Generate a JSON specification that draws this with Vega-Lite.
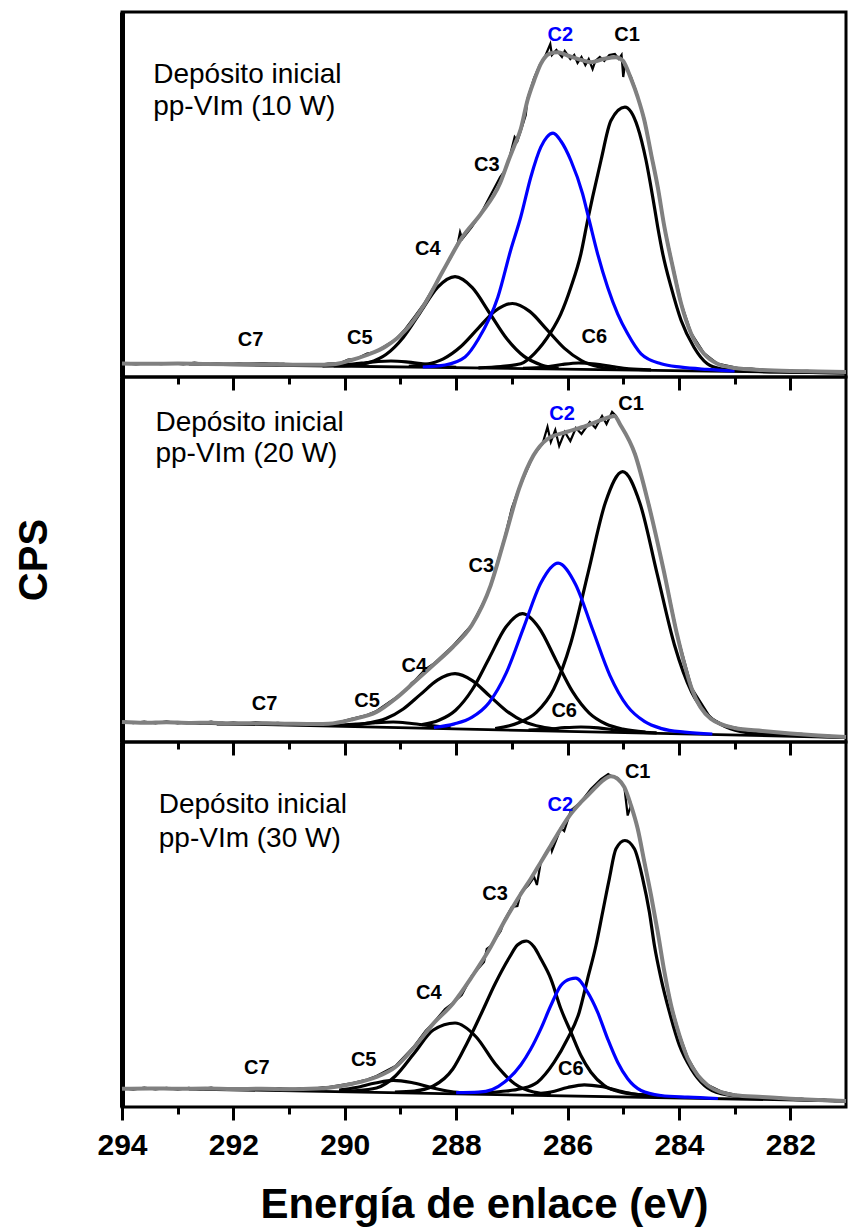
{
"$schema": "https://vega.github.io/schema/vega-lite/v6.json",
"padding": {"left": 12, "top": 10, "right": 2, "bottom": 2},
"config": {"view": {"stroke": "black", "strokeWidth": 3}, "font": "Liberation Sans", "axis": {"grid": false}},
"datasets": {
"curves": [
{"p":1,"s":"env","x":294,"y":13.5},{"p":1,"s":"env","x":293.5,"y":13.2},{"p":1,"s":"env","x":293,"y":13.4},{"p":1,"s":"env","x":292.5,"y":13},{"p":1,"s":"env","x":292,"y":12.8},{"p":1,"s":"env","x":291.5,"y":12.8},{"p":1,"s":"env","x":291,"y":12.3},{"p":1,"s":"env","x":290.5,"y":12.2},{"p":1,"s":"env","x":290.2,"y":12.8},{"p":1,"s":"env","x":289.94,"y":16},{"p":1,"s":"env","x":289.6,"y":22},{"p":1,"s":"env","x":289.26,"y":30.7},{"p":1,"s":"env","x":288.92,"y":46},{"p":1,"s":"env","x":288.58,"y":71.6},{"p":1,"s":"env","x":288.24,"y":105.7},{"p":1,"s":"env","x":287.89,"y":139.8},{"p":1,"s":"env","x":287.55,"y":163.7},{"p":1,"s":"env","x":287.21,"y":194},{"p":1,"s":"env","x":287.05,"y":218},{"p":1,"s":"env","x":286.95,"y":232},{"p":1,"s":"env","x":286.84,"y":248},{"p":1,"s":"env","x":286.72,"y":276.5},{"p":1,"s":"env","x":286.6,"y":296.5},{"p":1,"s":"env","x":286.48,"y":313.2},{"p":1,"s":"env","x":286.33,"y":323.2},{"p":1,"s":"env","x":286.18,"y":324.8},{"p":1,"s":"env","x":286,"y":321.5},{"p":1,"s":"env","x":285.82,"y":318.2},{"p":1,"s":"env","x":285.58,"y":314.8},{"p":1,"s":"env","x":285.34,"y":318.2},{"p":1,"s":"env","x":285.13,"y":319.8},{"p":1,"s":"env","x":285.01,"y":316.5},{"p":1,"s":"env","x":284.86,"y":298.2},{"p":1,"s":"env","x":284.74,"y":279.8},{"p":1,"s":"env","x":284.62,"y":256.5},{"p":1,"s":"env","x":284.5,"y":223.2},{"p":1,"s":"env","x":284.38,"y":189.8},{"p":1,"s":"env","x":284.26,"y":149.8},{"p":1,"s":"env","x":284.11,"y":109.8},{"p":1,"s":"env","x":283.96,"y":73.2},{"p":1,"s":"env","x":283.78,"y":43.2},{"p":1,"s":"env","x":283.55,"y":23.2},{"p":1,"s":"env","x":283.31,"y":13.2},{"p":1,"s":"env","x":283,"y":9},{"p":1,"s":"env","x":282.5,"y":7},{"p":1,"s":"env","x":282,"y":6},{"p":1,"s":"env","x":281.5,"y":5.5},{"p":1,"s":"env","x":281,"y":5},
{"p":1,"s":"raw","x":294,"y":14.2},{"p":1,"s":"raw","x":293.75,"y":12.6},{"p":1,"s":"raw","x":293.5,"y":14},{"p":1,"s":"raw","x":293.3,"y":12.8},{"p":1,"s":"raw","x":293.1,"y":13.9},{"p":1,"s":"raw","x":292.9,"y":12.5},{"p":1,"s":"raw","x":292.7,"y":14.3},{"p":1,"s":"raw","x":292.5,"y":12.9},{"p":1,"s":"raw","x":292.3,"y":13.6},{"p":1,"s":"raw","x":292.1,"y":12.4},{"p":1,"s":"raw","x":291.9,"y":13.5},{"p":1,"s":"raw","x":291.7,"y":12.2},{"p":1,"s":"raw","x":291.5,"y":13.8},{"p":1,"s":"raw","x":291.3,"y":12.4},{"p":1,"s":"raw","x":291.1,"y":13.2},{"p":1,"s":"raw","x":290.9,"y":11.8},{"p":1,"s":"raw","x":290.7,"y":12.9},{"p":1,"s":"raw","x":290.5,"y":11.9},{"p":1,"s":"raw","x":290.3,"y":13.4},{"p":1,"s":"raw","x":290.1,"y":13.6},{"p":1,"s":"raw","x":289.94,"y":17.5},{"p":1,"s":"raw","x":289.8,"y":18},{"p":1,"s":"raw","x":289.6,"y":23.5},{"p":1,"s":"raw","x":289.45,"y":25},{"p":1,"s":"raw","x":289.26,"y":31.5},{"p":1,"s":"raw","x":289.1,"y":37},{"p":1,"s":"raw","x":288.92,"y":47.5},{"p":1,"s":"raw","x":288.75,"y":60},{"p":1,"s":"raw","x":288.58,"y":73},{"p":1,"s":"raw","x":288.4,"y":90},{"p":1,"s":"raw","x":288.24,"y":106},{"p":1,"s":"raw","x":288.1,"y":119},{"p":1,"s":"raw","x":287.97,"y":134},{"p":1,"s":"raw","x":287.93,"y":145},{"p":1,"s":"raw","x":287.89,"y":138},{"p":1,"s":"raw","x":287.72,"y":150},{"p":1,"s":"raw","x":287.55,"y":164},{"p":1,"s":"raw","x":287.4,"y":180},{"p":1,"s":"raw","x":287.21,"y":200},{"p":1,"s":"raw","x":287.13,"y":206},{"p":1,"s":"raw","x":287.05,"y":218},{"p":1,"s":"raw","x":286.95,"y":240},{"p":1,"s":"raw","x":286.9,"y":236},{"p":1,"s":"raw","x":286.84,"y":246},{"p":1,"s":"raw","x":286.75,"y":262},{"p":1,"s":"raw","x":286.72,"y":278},{"p":1,"s":"raw","x":286.6,"y":299},{"p":1,"s":"raw","x":286.5,"y":312},{"p":1,"s":"raw","x":286.4,"y":321},{"p":1,"s":"raw","x":286.31,"y":333},{"p":1,"s":"raw","x":286.28,"y":322},{"p":1,"s":"raw","x":286.2,"y":327},{"p":1,"s":"raw","x":286.1,"y":320},{"p":1,"s":"raw","x":286.05,"y":326},{"p":1,"s":"raw","x":285.95,"y":318},{"p":1,"s":"raw","x":285.88,"y":322},{"p":1,"s":"raw","x":285.82,"y":314},{"p":1,"s":"raw","x":285.75,"y":320},{"p":1,"s":"raw","x":285.68,"y":312},{"p":1,"s":"raw","x":285.62,"y":318},{"p":1,"s":"raw","x":285.55,"y":308},{"p":1,"s":"raw","x":285.5,"y":316},{"p":1,"s":"raw","x":285.42,"y":320},{"p":1,"s":"raw","x":285.34,"y":316},{"p":1,"s":"raw","x":285.25,"y":322},{"p":1,"s":"raw","x":285.15,"y":323},{"p":1,"s":"raw","x":285.08,"y":318},{"p":1,"s":"raw","x":285.03,"y":322},{"p":1,"s":"raw","x":285,"y":300},{"p":1,"s":"raw","x":284.97,"y":312},{"p":1,"s":"raw","x":284.86,"y":300},{"p":1,"s":"raw","x":284.77,"y":286},{"p":1,"s":"raw","x":284.74,"y":280},{"p":1,"s":"raw","x":284.62,"y":258},{"p":1,"s":"raw","x":284.5,"y":224},{"p":1,"s":"raw","x":284.38,"y":191},{"p":1,"s":"raw","x":284.26,"y":150},{"p":1,"s":"raw","x":284.11,"y":111},{"p":1,"s":"raw","x":283.96,"y":74},{"p":1,"s":"raw","x":283.78,"y":44},{"p":1,"s":"raw","x":283.55,"y":24},{"p":1,"s":"raw","x":283.31,"y":13.5},{"p":1,"s":"raw","x":283.1,"y":11},{"p":1,"s":"raw","x":282.9,"y":8.5},{"p":1,"s":"raw","x":282.7,"y":8.5},{"p":1,"s":"raw","x":282.5,"y":7.2},{"p":1,"s":"raw","x":282.3,"y":6.8},{"p":1,"s":"raw","x":282.1,"y":6.5},{"p":1,"s":"raw","x":281.9,"y":5.6},{"p":1,"s":"raw","x":281.7,"y":6.2},{"p":1,"s":"raw","x":281.5,"y":5.2},{"p":1,"s":"raw","x":281.3,"y":5.6},{"p":1,"s":"raw","x":281,"y":4.8},
{"p":1,"s":"C1","x":287.6,"y":9.2},{"p":1,"s":"C1","x":287.2,"y":10.5},{"p":1,"s":"C1","x":286.84,"y":13.2},{"p":1,"s":"C1","x":286.6,"y":23.2},{"p":1,"s":"C1","x":286.3,"y":44.8},{"p":1,"s":"C1","x":286.12,"y":63.2},{"p":1,"s":"C1","x":285.94,"y":89.8},{"p":1,"s":"C1","x":285.76,"y":123.2},{"p":1,"s":"C1","x":285.64,"y":156.5},{"p":1,"s":"C1","x":285.55,"y":179.8},{"p":1,"s":"C1","x":285.4,"y":216.5},{"p":1,"s":"C1","x":285.22,"y":256.5},{"p":1,"s":"C1","x":284.97,"y":269.8},{"p":1,"s":"C1","x":284.74,"y":249.8},{"p":1,"s":"C1","x":284.59,"y":216.5},{"p":1,"s":"C1","x":284.47,"y":179.8},{"p":1,"s":"C1","x":284.38,"y":149.8},{"p":1,"s":"C1","x":284.29,"y":123.2},{"p":1,"s":"C1","x":284.14,"y":89.8},{"p":1,"s":"C1","x":283.96,"y":56.5},{"p":1,"s":"C1","x":283.73,"y":29.8},{"p":1,"s":"C1","x":283.49,"y":13.2},{"p":1,"s":"C1","x":283.25,"y":8.2},{"p":1,"s":"C1","x":282.8,"y":6},{"p":1,"s":"C1","x":282,"y":4.8},{"p":1,"s":"C1","x":281,"y":4},
{"p":1,"s":"C2","x":288.6,"y":10},{"p":1,"s":"C2","x":288.2,"y":12},{"p":1,"s":"C2","x":287.84,"y":20},{"p":1,"s":"C2","x":287.6,"y":38},{"p":1,"s":"C2","x":287.25,"y":80},{"p":1,"s":"C2","x":287.02,"y":127},{"p":1,"s":"C2","x":286.84,"y":160},{"p":1,"s":"C2","x":286.66,"y":199.8},{"p":1,"s":"C2","x":286.48,"y":229.8},{"p":1,"s":"C2","x":286.37,"y":240},{"p":1,"s":"C2","x":286.26,"y":243.8},{"p":1,"s":"C2","x":286.12,"y":236},{"p":1,"s":"C2","x":285.94,"y":216.5},{"p":1,"s":"C2","x":285.73,"y":183.2},{"p":1,"s":"C2","x":285.61,"y":156.5},{"p":1,"s":"C2","x":285.46,"y":123.2},{"p":1,"s":"C2","x":285.28,"y":89.8},{"p":1,"s":"C2","x":285.1,"y":63.2},{"p":1,"s":"C2","x":284.92,"y":43.2},{"p":1,"s":"C2","x":284.68,"y":23.2},{"p":1,"s":"C2","x":284.32,"y":13.2},{"p":1,"s":"C2","x":283.96,"y":9.8},{"p":1,"s":"C2","x":283.5,"y":7.6},{"p":1,"s":"C2","x":283,"y":6},
{"p":1,"s":"C3","x":285.13,"y":7.8},{"p":1,"s":"C3","x":285.44,"y":10.2},{"p":1,"s":"C3","x":285.75,"y":16.4},{"p":1,"s":"C3","x":286.06,"y":28.9},{"p":1,"s":"C3","x":286.37,"y":47.4},{"p":1,"s":"C3","x":286.68,"y":65.6},{"p":1,"s":"C3","x":286.99,"y":73.5},{"p":1,"s":"C3","x":287.3,"y":66},{"p":1,"s":"C3","x":287.61,"y":48.4},{"p":1,"s":"C3","x":287.92,"y":30.3},{"p":1,"s":"C3","x":288.23,"y":18.2},{"p":1,"s":"C3","x":288.54,"y":12.6},{"p":1,"s":"C3","x":288.85,"y":10.6},
{"p":1,"s":"C4","x":286.16,"y":8.9},{"p":1,"s":"C4","x":286.47,"y":12.1},{"p":1,"s":"C4","x":286.78,"y":20.6},{"p":1,"s":"C4","x":287.09,"y":38.2},{"p":1,"s":"C4","x":287.4,"y":64},{"p":1,"s":"C4","x":287.71,"y":89.3},{"p":1,"s":"C4","x":288.02,"y":100.3},{"p":1,"s":"C4","x":288.33,"y":89.8},{"p":1,"s":"C4","x":288.64,"y":64.9},{"p":1,"s":"C4","x":288.95,"y":39.6},{"p":1,"s":"C4","x":289.26,"y":22.5},{"p":1,"s":"C4","x":289.57,"y":14.4},{"p":1,"s":"C4","x":289.88,"y":11.7},{"p":1,"s":"C4","x":290.2,"y":11},
{"p":1,"s":"C5","x":290.4,"y":11.2},{"p":1,"s":"C5","x":290,"y":12.2},{"p":1,"s":"C5","x":289.7,"y":13.8},{"p":1,"s":"C5","x":289.4,"y":15.5},{"p":1,"s":"C5","x":289.17,"y":16},{"p":1,"s":"C5","x":288.9,"y":15.2},{"p":1,"s":"C5","x":288.6,"y":13.2},{"p":1,"s":"C5","x":288.3,"y":11},{"p":1,"s":"C5","x":288,"y":9.6},
{"p":1,"s":"C6","x":286.8,"y":8.6},{"p":1,"s":"C6","x":286.4,"y":10},{"p":1,"s":"C6","x":286.1,"y":12.5},{"p":1,"s":"C6","x":285.8,"y":14},{"p":1,"s":"C6","x":285.5,"y":13},{"p":1,"s":"C6","x":285.2,"y":10.5},{"p":1,"s":"C6","x":284.9,"y":8.2},{"p":1,"s":"C6","x":284.5,"y":7.2},
{"p":1,"s":"C7","x":292.4,"y":12.7},{"p":1,"s":"C7","x":291.9,"y":12.8},{"p":1,"s":"C7","x":291.5,"y":13.1},{"p":1,"s":"C7","x":291.1,"y":12.6},{"p":1,"s":"C7","x":290.6,"y":11.8},
{"p":1,"s":"base","x":292.8,"y":12.9},{"p":1,"s":"base","x":281,"y":4},

{"p":2,"s":"env","x":294,"y":20},{"p":2,"s":"env","x":293.6,"y":19.2},{"p":2,"s":"env","x":293.2,"y":19.8},{"p":2,"s":"env","x":292.8,"y":19},{"p":2,"s":"env","x":292.4,"y":19.3},{"p":2,"s":"env","x":292,"y":18.7},{"p":2,"s":"env","x":291.5,"y":18.8},{"p":2,"s":"env","x":291,"y":18.3},{"p":2,"s":"env","x":290.5,"y":18},{"p":2,"s":"env","x":290.29,"y":18.3},{"p":2,"s":"env","x":289.86,"y":22.7},{"p":2,"s":"env","x":289.43,"y":30},{"p":2,"s":"env","x":289.09,"y":43.3},{"p":2,"s":"env","x":288.75,"y":60},{"p":2,"s":"env","x":288.41,"y":77},{"p":2,"s":"env","x":288.06,"y":95},{"p":2,"s":"env","x":287.72,"y":116.7},{"p":2,"s":"env","x":287.38,"y":156.7},{"p":2,"s":"env","x":287.13,"y":203.3},{"p":2,"s":"env","x":286.87,"y":253.3},{"p":2,"s":"env","x":286.61,"y":286.7},{"p":2,"s":"env","x":286.36,"y":303},{"p":2,"s":"env","x":286.02,"y":310},{"p":2,"s":"env","x":285.67,"y":316},{"p":2,"s":"env","x":285.33,"y":323.3},{"p":2,"s":"env","x":285.16,"y":326},{"p":2,"s":"env","x":285.05,"y":317},{"p":2,"s":"env","x":284.79,"y":288},{"p":2,"s":"env","x":284.54,"y":236.7},{"p":2,"s":"env","x":284.28,"y":173.3},{"p":2,"s":"env","x":284.03,"y":106.7},{"p":2,"s":"env","x":283.77,"y":53.3},{"p":2,"s":"env","x":283.43,"y":23.3},{"p":2,"s":"env","x":283,"y":14},{"p":2,"s":"env","x":282.5,"y":11},{"p":2,"s":"env","x":282,"y":8.5},{"p":2,"s":"env","x":281.5,"y":6.5},{"p":2,"s":"env","x":281,"y":5},
{"p":2,"s":"raw","x":294,"y":21},{"p":2,"s":"raw","x":293.8,"y":18.8},{"p":2,"s":"raw","x":293.6,"y":20.5},{"p":2,"s":"raw","x":293.4,"y":18.6},{"p":2,"s":"raw","x":293.2,"y":20.6},{"p":2,"s":"raw","x":293,"y":18.5},{"p":2,"s":"raw","x":292.8,"y":20},{"p":2,"s":"raw","x":292.6,"y":18.4},{"p":2,"s":"raw","x":292.4,"y":20.4},{"p":2,"s":"raw","x":292.2,"y":18.2},{"p":2,"s":"raw","x":292,"y":19.6},{"p":2,"s":"raw","x":291.8,"y":18},{"p":2,"s":"raw","x":291.6,"y":19.8},{"p":2,"s":"raw","x":291.4,"y":18.1},{"p":2,"s":"raw","x":291.2,"y":19.2},{"p":2,"s":"raw","x":291,"y":17.6},{"p":2,"s":"raw","x":290.8,"y":18.9},{"p":2,"s":"raw","x":290.6,"y":17.4},{"p":2,"s":"raw","x":290.4,"y":18.8},{"p":2,"s":"raw","x":290.2,"y":18.5},{"p":2,"s":"raw","x":289.86,"y":23.5},{"p":2,"s":"raw","x":289.6,"y":27},{"p":2,"s":"raw","x":289.43,"y":31},{"p":2,"s":"raw","x":289.09,"y":44},{"p":2,"s":"raw","x":288.9,"y":52},{"p":2,"s":"raw","x":288.8,"y":59},{"p":2,"s":"raw","x":288.75,"y":61},{"p":2,"s":"raw","x":288.55,"y":73},{"p":2,"s":"raw","x":288.41,"y":78},{"p":2,"s":"raw","x":288.06,"y":96},{"p":2,"s":"raw","x":287.72,"y":117},{"p":2,"s":"raw","x":287.45,"y":146},{"p":2,"s":"raw","x":287.38,"y":157},{"p":2,"s":"raw","x":287.3,"y":172},{"p":2,"s":"raw","x":287.13,"y":204},{"p":2,"s":"raw","x":287,"y":234},{"p":2,"s":"raw","x":286.87,"y":254},{"p":2,"s":"raw","x":286.61,"y":287},{"p":2,"s":"raw","x":286.45,"y":298},{"p":2,"s":"raw","x":286.36,"y":315},{"p":2,"s":"raw","x":286.3,"y":300},{"p":2,"s":"raw","x":286.22,"y":312},{"p":2,"s":"raw","x":286.15,"y":296},{"p":2,"s":"raw","x":286.05,"y":310},{"p":2,"s":"raw","x":285.95,"y":301},{"p":2,"s":"raw","x":285.85,"y":314},{"p":2,"s":"raw","x":285.75,"y":308},{"p":2,"s":"raw","x":285.6,"y":320},{"p":2,"s":"raw","x":285.5,"y":314},{"p":2,"s":"raw","x":285.38,"y":326},{"p":2,"s":"raw","x":285.3,"y":318},{"p":2,"s":"raw","x":285.2,"y":330},{"p":2,"s":"raw","x":285.13,"y":326},{"p":2,"s":"raw","x":285.05,"y":317},{"p":2,"s":"raw","x":284.92,"y":304},{"p":2,"s":"raw","x":284.79,"y":289},{"p":2,"s":"raw","x":284.54,"y":238},{"p":2,"s":"raw","x":284.28,"y":174},{"p":2,"s":"raw","x":284.03,"y":107},{"p":2,"s":"raw","x":283.77,"y":54},{"p":2,"s":"raw","x":283.43,"y":24},{"p":2,"s":"raw","x":283.2,"y":17},{"p":2,"s":"raw","x":283,"y":14.5},{"p":2,"s":"raw","x":282.8,"y":12.2},{"p":2,"s":"raw","x":282.6,"y":12},{"p":2,"s":"raw","x":282.4,"y":10.2},{"p":2,"s":"raw","x":282.2,"y":10},{"p":2,"s":"raw","x":282,"y":8.4},{"p":2,"s":"raw","x":281.8,"y":8.2},{"p":2,"s":"raw","x":281.6,"y":6.6},{"p":2,"s":"raw","x":281.4,"y":6.8},{"p":2,"s":"raw","x":281.2,"y":5.4},{"p":2,"s":"raw","x":281,"y":5.2},
{"p":2,"s":"C1","x":287.3,"y":13.5},{"p":2,"s":"C1","x":286.87,"y":19.5},{"p":2,"s":"C1","x":286.56,"y":29.6},{"p":2,"s":"C1","x":286.25,"y":52.7},{"p":2,"s":"C1","x":285.94,"y":99.2},{"p":2,"s":"C1","x":285.63,"y":169.4},{"p":2,"s":"C1","x":285.32,"y":239.5},{"p":2,"s":"C1","x":285.01,"y":270.4},{"p":2,"s":"C1","x":284.7,"y":238.8},{"p":2,"s":"C1","x":284.39,"y":167.8},{"p":2,"s":"C1","x":284.08,"y":97},{"p":2,"s":"C1","x":283.77,"y":49.7},{"p":2,"s":"C1","x":283.46,"y":25.8},{"p":2,"s":"C1","x":283.15,"y":14.9},{"p":2,"s":"C1","x":282.8,"y":9.5},{"p":2,"s":"C1","x":282.3,"y":7.5},{"p":2,"s":"C1","x":281.5,"y":5.5},{"p":2,"s":"C1","x":281,"y":4.8},
{"p":2,"s":"C2","x":288.4,"y":14.5},{"p":2,"s":"C2","x":288.03,"y":18.1},{"p":2,"s":"C2","x":287.72,"y":24.6},{"p":2,"s":"C2","x":287.41,"y":39.3},{"p":2,"s":"C2","x":287.1,"y":69.1},{"p":2,"s":"C2","x":286.79,"y":114.1},{"p":2,"s":"C2","x":286.48,"y":159},{"p":2,"s":"C2","x":286.17,"y":178.9},{"p":2,"s":"C2","x":285.86,"y":158.1},{"p":2,"s":"C2","x":285.55,"y":112.5},{"p":2,"s":"C2","x":285.24,"y":66.7},{"p":2,"s":"C2","x":284.93,"y":36.1},{"p":2,"s":"C2","x":284.62,"y":20.6},{"p":2,"s":"C2","x":284.31,"y":13.4},{"p":2,"s":"C2","x":283.9,"y":9.8},{"p":2,"s":"C2","x":283.4,"y":8},
{"p":2,"s":"C3","x":288.61,"y":17.4},{"p":2,"s":"C3","x":288.31,"y":21.7},{"p":2,"s":"C3","x":288.01,"y":31.8},{"p":2,"s":"C3","x":287.71,"y":52.5},{"p":2,"s":"C3","x":287.41,"y":83.6},{"p":2,"s":"C3","x":287.11,"y":114.7},{"p":2,"s":"C3","x":286.81,"y":128.3},{"p":2,"s":"C3","x":286.51,"y":114},{"p":2,"s":"C3","x":286.21,"y":82.1},{"p":2,"s":"C3","x":285.91,"y":50.3},{"p":2,"s":"C3","x":285.61,"y":28.9},{"p":2,"s":"C3","x":285.31,"y":18},{"p":2,"s":"C3","x":285.01,"y":12.9},{"p":2,"s":"C3","x":284.6,"y":10},
{"p":2,"s":"C4","x":289.88,"y":17.1},{"p":2,"s":"C4","x":289.57,"y":18.9},{"p":2,"s":"C4","x":289.26,"y":23.4},{"p":2,"s":"C4","x":288.95,"y":33},{"p":2,"s":"C4","x":288.64,"y":47.6},{"p":2,"s":"C4","x":288.33,"y":62.1},{"p":2,"s":"C4","x":288.02,"y":68.3},{"p":2,"s":"C4","x":287.71,"y":61.4},{"p":2,"s":"C4","x":287.4,"y":46.1},{"p":2,"s":"C4","x":287.09,"y":30.8},{"p":2,"s":"C4","x":286.78,"y":20.4},{"p":2,"s":"C4","x":286.47,"y":15.1},{"p":2,"s":"C4","x":286.16,"y":12.5},
{"p":2,"s":"C5","x":290.4,"y":16.5},{"p":2,"s":"C5","x":290.1,"y":16.8},{"p":2,"s":"C5","x":289.8,"y":17.8},{"p":2,"s":"C5","x":289.45,"y":19.3},{"p":2,"s":"C5","x":289.13,"y":20},{"p":2,"s":"C5","x":288.8,"y":18.5},{"p":2,"s":"C5","x":288.45,"y":16.3},{"p":2,"s":"C5","x":288.1,"y":14.2},
{"p":2,"s":"C6","x":286.7,"y":11.8},{"p":2,"s":"C6","x":286.35,"y":12.8},{"p":2,"s":"C6","x":286.05,"y":14.3},{"p":2,"s":"C6","x":285.76,"y":15},{"p":2,"s":"C6","x":285.45,"y":14.2},{"p":2,"s":"C6","x":285.15,"y":12},{"p":2,"s":"C6","x":284.8,"y":10.2},{"p":2,"s":"C6","x":284.4,"y":9.2},
{"p":2,"s":"C7","x":292.3,"y":18},{"p":2,"s":"C7","x":291.8,"y":18.4},{"p":2,"s":"C7","x":291.4,"y":18.7},{"p":2,"s":"C7","x":291,"y":18.2},{"p":2,"s":"C7","x":290.5,"y":17.4},
{"p":2,"s":"base","x":292.8,"y":19},{"p":2,"s":"base","x":281,"y":4.5},

{"p":3,"s":"env","x":294,"y":18.3},{"p":3,"s":"env","x":293.5,"y":18.6},{"p":3,"s":"env","x":293,"y":18.2},{"p":3,"s":"env","x":292.5,"y":18.4},{"p":3,"s":"env","x":292,"y":18},{"p":3,"s":"env","x":291.5,"y":18.2},{"p":3,"s":"env","x":291,"y":17.8},{"p":3,"s":"env","x":290.5,"y":18.5},{"p":3,"s":"env","x":290.29,"y":19.3},{"p":3,"s":"env","x":289.86,"y":23.3},{"p":3,"s":"env","x":289.43,"y":30},{"p":3,"s":"env","x":289.09,"y":40},{"p":3,"s":"env","x":288.75,"y":60},{"p":3,"s":"env","x":288.41,"y":83.3},{"p":3,"s":"env","x":288.06,"y":103.3},{"p":3,"s":"env","x":287.72,"y":130},{"p":3,"s":"env","x":287.38,"y":160},{"p":3,"s":"env","x":287.13,"y":186},{"p":3,"s":"env","x":286.95,"y":203},{"p":3,"s":"env","x":286.84,"y":213},{"p":3,"s":"env","x":286.66,"y":228.2},{"p":3,"s":"env","x":286.48,"y":244.8},{"p":3,"s":"env","x":286.3,"y":261.5},{"p":3,"s":"env","x":286.12,"y":278.2},{"p":3,"s":"env","x":285.94,"y":293.2},{"p":3,"s":"env","x":285.76,"y":304.8},{"p":3,"s":"env","x":285.58,"y":314.8},{"p":3,"s":"env","x":285.4,"y":324.8},{"p":3,"s":"env","x":285.22,"y":330.8},{"p":3,"s":"env","x":285.1,"y":328.2},{"p":3,"s":"env","x":284.98,"y":319.8},{"p":3,"s":"env","x":284.86,"y":301.5},{"p":3,"s":"env","x":284.74,"y":278.2},{"p":3,"s":"env","x":284.62,"y":244.8},{"p":3,"s":"env","x":284.5,"y":211.5},{"p":3,"s":"env","x":284.38,"y":174.8},{"p":3,"s":"env","x":284.26,"y":134.8},{"p":3,"s":"env","x":284.14,"y":101.5},{"p":3,"s":"env","x":283.99,"y":71.5},{"p":3,"s":"env","x":283.84,"y":48.2},{"p":3,"s":"env","x":283.66,"y":31.5},{"p":3,"s":"env","x":283.48,"y":21.5},{"p":3,"s":"env","x":283.24,"y":14.8},{"p":3,"s":"env","x":283,"y":11.7},{"p":3,"s":"env","x":282.5,"y":10},{"p":3,"s":"env","x":282,"y":8.3},{"p":3,"s":"env","x":281.5,"y":7},{"p":3,"s":"env","x":281,"y":6},
{"p":3,"s":"raw","x":294,"y":19.2},{"p":3,"s":"raw","x":293.8,"y":17.4},{"p":3,"s":"raw","x":293.6,"y":19.4},{"p":3,"s":"raw","x":293.4,"y":17.6},{"p":3,"s":"raw","x":293.2,"y":19.1},{"p":3,"s":"raw","x":293,"y":17.4},{"p":3,"s":"raw","x":292.8,"y":19.2},{"p":3,"s":"raw","x":292.6,"y":17.6},{"p":3,"s":"raw","x":292.4,"y":19.3},{"p":3,"s":"raw","x":292.2,"y":17.2},{"p":3,"s":"raw","x":292,"y":18.9},{"p":3,"s":"raw","x":291.8,"y":17.3},{"p":3,"s":"raw","x":291.6,"y":19},{"p":3,"s":"raw","x":291.4,"y":17.4},{"p":3,"s":"raw","x":291.2,"y":18.7},{"p":3,"s":"raw","x":291,"y":17},{"p":3,"s":"raw","x":290.8,"y":18.6},{"p":3,"s":"raw","x":290.6,"y":17.8},{"p":3,"s":"raw","x":290.4,"y":19.6},{"p":3,"s":"raw","x":290.29,"y":19.8},{"p":3,"s":"raw","x":289.86,"y":24},{"p":3,"s":"raw","x":289.6,"y":27.5},{"p":3,"s":"raw","x":289.43,"y":31},{"p":3,"s":"raw","x":289.09,"y":41},{"p":3,"s":"raw","x":288.75,"y":61},{"p":3,"s":"raw","x":288.55,"y":76},{"p":3,"s":"raw","x":288.41,"y":84},{"p":3,"s":"raw","x":288.2,"y":98},{"p":3,"s":"raw","x":288.06,"y":104},{"p":3,"s":"raw","x":287.9,"y":112},{"p":3,"s":"raw","x":287.72,"y":131},{"p":3,"s":"raw","x":287.5,"y":145},{"p":3,"s":"raw","x":287.45,"y":158},{"p":3,"s":"raw","x":287.38,"y":161},{"p":3,"s":"raw","x":287.2,"y":176},{"p":3,"s":"raw","x":287.13,"y":187},{"p":3,"s":"raw","x":287,"y":200},{"p":3,"s":"raw","x":286.9,"y":201},{"p":3,"s":"raw","x":286.84,"y":214},{"p":3,"s":"raw","x":286.7,"y":222},{"p":3,"s":"raw","x":286.6,"y":230},{"p":3,"s":"raw","x":286.55,"y":222},{"p":3,"s":"raw","x":286.48,"y":245},{"p":3,"s":"raw","x":286.3,"y":262},{"p":3,"s":"raw","x":286.28,"y":256},{"p":3,"s":"raw","x":286.12,"y":279},{"p":3,"s":"raw","x":286.06,"y":276},{"p":3,"s":"raw","x":285.94,"y":296.5},{"p":3,"s":"raw","x":285.76,"y":305},{"p":3,"s":"raw","x":285.58,"y":318},{"p":3,"s":"raw","x":285.4,"y":328},{"p":3,"s":"raw","x":285.27,"y":333},{"p":3,"s":"raw","x":285.22,"y":331},{"p":3,"s":"raw","x":285.1,"y":329},{"p":3,"s":"raw","x":285.07,"y":326.5},{"p":3,"s":"raw","x":284.98,"y":320},{"p":3,"s":"raw","x":284.92,"y":291.5},{"p":3,"s":"raw","x":284.86,"y":302},{"p":3,"s":"raw","x":284.74,"y":279},{"p":3,"s":"raw","x":284.62,"y":246},{"p":3,"s":"raw","x":284.5,"y":212},{"p":3,"s":"raw","x":284.38,"y":175},{"p":3,"s":"raw","x":284.26,"y":135},{"p":3,"s":"raw","x":284.14,"y":102},{"p":3,"s":"raw","x":283.99,"y":72},{"p":3,"s":"raw","x":283.84,"y":49},{"p":3,"s":"raw","x":283.66,"y":32},{"p":3,"s":"raw","x":283.48,"y":22},{"p":3,"s":"raw","x":283.24,"y":15.5},{"p":3,"s":"raw","x":283,"y":12.5},{"p":3,"s":"raw","x":282.8,"y":10.4},{"p":3,"s":"raw","x":282.6,"y":11},{"p":3,"s":"raw","x":282.4,"y":9.2},{"p":3,"s":"raw","x":282.2,"y":9.4},{"p":3,"s":"raw","x":282,"y":7.8},{"p":3,"s":"raw","x":281.8,"y":8.4},{"p":3,"s":"raw","x":281.6,"y":6.6},{"p":3,"s":"raw","x":281.4,"y":7.4},{"p":3,"s":"raw","x":281.2,"y":5.8},{"p":3,"s":"raw","x":281,"y":6.2},
{"p":3,"s":"C1","x":287.6,"y":13.5},{"p":3,"s":"C1","x":287.2,"y":15.5},{"p":3,"s":"C1","x":286.84,"y":18.2},{"p":3,"s":"C1","x":286.54,"y":24.8},{"p":3,"s":"C1","x":286.24,"y":44.8},{"p":3,"s":"C1","x":286,"y":68.2},{"p":3,"s":"C1","x":285.79,"y":94.8},{"p":3,"s":"C1","x":285.64,"y":128.2},{"p":3,"s":"C1","x":285.49,"y":161.5},{"p":3,"s":"C1","x":285.37,"y":194.8},{"p":3,"s":"C1","x":285.25,"y":228.2},{"p":3,"s":"C1","x":285.13,"y":258.2},{"p":3,"s":"C1","x":284.97,"y":266.5},{"p":3,"s":"C1","x":284.8,"y":258.2},{"p":3,"s":"C1","x":284.65,"y":228.2},{"p":3,"s":"C1","x":284.53,"y":194.8},{"p":3,"s":"C1","x":284.44,"y":161.5},{"p":3,"s":"C1","x":284.32,"y":128.2},{"p":3,"s":"C1","x":284.17,"y":94.8},{"p":3,"s":"C1","x":283.99,"y":61.5},{"p":3,"s":"C1","x":283.78,"y":38.2},{"p":3,"s":"C1","x":283.54,"y":21.5},{"p":3,"s":"C1","x":283.24,"y":13.2},{"p":3,"s":"C1","x":282.8,"y":10},{"p":3,"s":"C1","x":282.2,"y":8},{"p":3,"s":"C1","x":281.5,"y":6.8},{"p":3,"s":"C1","x":281,"y":6.2},
{"p":3,"s":"C2","x":288,"y":14.3},{"p":3,"s":"C2","x":287.6,"y":14.8},{"p":3,"s":"C2","x":287.35,"y":17.5},{"p":3,"s":"C2","x":287.13,"y":25},{"p":3,"s":"C2","x":286.84,"y":42},{"p":3,"s":"C2","x":286.66,"y":58},{"p":3,"s":"C2","x":286.48,"y":78.2},{"p":3,"s":"C2","x":286.3,"y":101.5},{"p":3,"s":"C2","x":286.12,"y":121.5},{"p":3,"s":"C2","x":285.95,"y":128},{"p":3,"s":"C2","x":285.85,"y":128.8},{"p":3,"s":"C2","x":285.64,"y":114.8},{"p":3,"s":"C2","x":285.46,"y":94.8},{"p":3,"s":"C2","x":285.28,"y":68.2},{"p":3,"s":"C2","x":285.1,"y":44.8},{"p":3,"s":"C2","x":284.92,"y":28.2},{"p":3,"s":"C2","x":284.68,"y":16.5},{"p":3,"s":"C2","x":284.32,"y":11.5},{"p":3,"s":"C2","x":283.84,"y":9.8},{"p":3,"s":"C2","x":283.3,"y":8.5},
{"p":3,"s":"C3","x":289.1,"y":15},{"p":3,"s":"C3","x":288.75,"y":16},{"p":3,"s":"C3","x":288.41,"y":21},{"p":3,"s":"C3","x":288.06,"y":38},{"p":3,"s":"C3","x":287.81,"y":63.3},{"p":3,"s":"C3","x":287.55,"y":93.3},{"p":3,"s":"C3","x":287.3,"y":123.3},{"p":3,"s":"C3","x":287.04,"y":150},{"p":3,"s":"C3","x":286.9,"y":162},{"p":3,"s":"C3","x":286.74,"y":166},{"p":3,"s":"C3","x":286.6,"y":160},{"p":3,"s":"C3","x":286.48,"y":148.2},{"p":3,"s":"C3","x":286.3,"y":128.2},{"p":3,"s":"C3","x":286.12,"y":98.2},{"p":3,"s":"C3","x":285.94,"y":74.8},{"p":3,"s":"C3","x":285.76,"y":51.5},{"p":3,"s":"C3","x":285.58,"y":34.8},{"p":3,"s":"C3","x":285.34,"y":21.5},{"p":3,"s":"C3","x":285.04,"y":14.8},{"p":3,"s":"C3","x":284.6,"y":12},
{"p":3,"s":"C4","x":290.1,"y":16},{"p":3,"s":"C4","x":289.77,"y":16.5},{"p":3,"s":"C4","x":289.43,"y":19},{"p":3,"s":"C4","x":289.09,"y":31},{"p":3,"s":"C4","x":288.75,"y":54},{"p":3,"s":"C4","x":288.41,"y":77},{"p":3,"s":"C4","x":288.02,"y":84},{"p":3,"s":"C4","x":287.64,"y":70},{"p":3,"s":"C4","x":287.3,"y":43.3},{"p":3,"s":"C4","x":286.95,"y":23.3},{"p":3,"s":"C4","x":286.61,"y":15},{"p":3,"s":"C4","x":286.3,"y":13},
{"p":3,"s":"C5","x":290.1,"y":17},{"p":3,"s":"C5","x":289.8,"y":19.5},{"p":3,"s":"C5","x":289.45,"y":24},{"p":3,"s":"C5","x":289.13,"y":26.7},{"p":3,"s":"C5","x":288.8,"y":24.5},{"p":3,"s":"C5","x":288.45,"y":19.5},{"p":3,"s":"C5","x":288.1,"y":15.5},{"p":3,"s":"C5","x":287.8,"y":14},
{"p":3,"s":"C6","x":286.6,"y":12.8},{"p":3,"s":"C6","x":286.3,"y":15},{"p":3,"s":"C6","x":286,"y":19.5},{"p":3,"s":"C6","x":285.7,"y":22.2},{"p":3,"s":"C6","x":285.4,"y":20.5},{"p":3,"s":"C6","x":285.1,"y":16.5},{"p":3,"s":"C6","x":284.8,"y":13},{"p":3,"s":"C6","x":284.4,"y":11.5},
{"p":3,"s":"C7","x":292.3,"y":17.6},{"p":3,"s":"C7","x":291.8,"y":18},{"p":3,"s":"C7","x":291.5,"y":18.3},{"p":3,"s":"C7","x":291.1,"y":18},{"p":3,"s":"C7","x":290.6,"y":17.2},
{"p":3,"s":"base","x":292.8,"y":18},{"p":3,"s":"base","x":281,"y":6}
],
"labels": [
{"p":1,"k":"b","t":"C2","x":286.13,"y":342.2},{"p":1,"k":"k","t":"C1","x":284.93,"y":342.2},{"p":1,"k":"k","t":"C3","x":287.45,"y":212},{"p":1,"k":"k","t":"C4","x":288.51,"y":128.5},{"p":1,"k":"k","t":"C5","x":289.73,"y":39},{"p":1,"k":"k","t":"C6","x":285.52,"y":39.8},{"p":1,"k":"k","t":"C7","x":291.69,"y":37.5},
{"p":1,"k":"d","t":"Depósito inicial","x":293.44,"y":294.5},{"p":1,"k":"d","t":"pp-VIm (10 W)","x":293.44,"y":262.5},
{"p":2,"k":"b","t":"C2","x":286.1,"y":328.3},{"p":2,"k":"k","t":"C1","x":284.86,"y":338.3},{"p":2,"k":"k","t":"C3","x":287.55,"y":176},{"p":2,"k":"k","t":"C4","x":288.75,"y":76},{"p":2,"k":"k","t":"C5","x":289.6,"y":40.7},{"p":2,"k":"k","t":"C6","x":286.06,"y":30.7},{"p":2,"k":"k","t":"C7","x":291.44,"y":38.3},
{"p":2,"k":"d","t":"Depósito inicial","x":293.4,"y":310.8},{"p":2,"k":"d","t":"pp-VIm (20 W)","x":293.4,"y":279.8},
{"p":3,"k":"k","t":"C1","x":284.74,"y":334.8},{"p":3,"k":"b","t":"C2","x":286.13,"y":302.2},{"p":3,"k":"k","t":"C3","x":287.3,"y":213.3},{"p":3,"k":"k","t":"C4","x":288.49,"y":114},{"p":3,"k":"k","t":"C5","x":289.66,"y":47.3},{"p":3,"k":"k","t":"C6","x":285.94,"y":38.2},{"p":3,"k":"k","t":"C7","x":291.58,"y":39.3},
{"p":3,"k":"d","t":"Depósito inicial","x":293.34,"y":293.8},{"p":3,"k":"d","t":"pp-VIm (30 W)","x":293.34,"y":259.8}
]
},
"vconcat": [
{
"width": 724, "height": 365,
"encoding": {
"x": {"field": "x", "type": "quantitative", "scale": {"domain": [281, 294], "reverse": true, "nice": false, "zero": false}, "axis": {"values": [282,283,284,285,286,287,288,289,290,291,292,293,294], "labels": false, "title": null, "domain": false, "tickColor": "black", "tickWidth": 3, "tickSize": {"condition": {"test": "datum.value % 2 === 0", "value": 13}, "value": 7}}},
"y": {"field": "y", "type": "quantitative", "scale": {"domain": [0, 365], "nice": false, "zero": false}, "axis": {"title": null, "ticks": false, "labels": false, "domainWidth": 5, "domainColor": "black"}}
},
"layer": [
{"data": {"name": "curves"}, "transform": [{"filter": "datum.p == 1 && datum.s == 'raw'"}], "mark": {"type": "line", "color": "black", "strokeWidth": 2.2}},
{"data": {"name": "curves"}, "transform": [{"filter": "datum.p == 1 && datum.s == 'base'"}], "mark": {"type": "line", "color": "black", "strokeWidth": 2.8}},
{"data": {"name": "curves"}, "transform": [{"filter": "datum.p == 1 && indexof(['C1','C3','C4','C5','C6','C7'], datum.s) >= 0"}], "mark": {"type": "line", "color": "black", "strokeWidth": 3.2, "interpolate": "monotone"}, "encoding": {"detail": {"field": "s"}}},
{"data": {"name": "curves"}, "transform": [{"filter": "datum.p == 1 && datum.s == 'C2'"}], "mark": {"type": "line", "color": "#0000ff", "strokeWidth": 3.2, "interpolate": "monotone"}},
{"data": {"name": "curves"}, "transform": [{"filter": "datum.p == 1 && datum.s == 'env'"}], "mark": {"type": "line", "color": "#808080", "strokeWidth": 4, "interpolate": "monotone"}},
{"data": {"name": "labels"}, "transform": [{"filter": "datum.p == 1 && datum.k != 'd'"}], "mark": {"type": "text", "fontSize": 20, "fontWeight": "bold", "align": "center", "baseline": "middle"}, "encoding": {"text": {"field": "t"}, "color": {"field": "k", "type": "nominal", "scale": {"domain": ["k", "b"], "range": ["black", "#0000ff"]}, "legend": null}}},
{"data": {"name": "labels"}, "transform": [{"filter": "datum.p == 1 && datum.k == 'd'"}], "mark": {"type": "text", "fontSize": 28, "align": "left", "baseline": "alphabetic", "color": "black"}, "encoding": {"text": {"field": "t"}}}
]
},
{
"width": 724, "height": 365,
"encoding": {
"x": {"field": "x", "type": "quantitative", "scale": {"domain": [281, 294], "reverse": true, "nice": false, "zero": false}, "axis": {"values": [282,283,284,285,286,287,288,289,290,291,292,293,294], "labels": false, "title": null, "domain": false, "tickColor": "black", "tickWidth": 3, "tickSize": {"condition": {"test": "datum.value % 2 === 0", "value": 13}, "value": 7}}},
"y": {"field": "y", "type": "quantitative", "scale": {"domain": [0, 365], "nice": false, "zero": false}, "axis": {"title": "CPS", "titleFontSize": 40, "titleFontWeight": "bold", "titleColor": "black", "titlePadding": 68, "ticks": false, "labels": false, "domainWidth": 5, "domainColor": "black"}}
},
"layer": [
{"data": {"name": "curves"}, "transform": [{"filter": "datum.p == 2 && datum.s == 'raw'"}], "mark": {"type": "line", "color": "black", "strokeWidth": 2.2}},
{"data": {"name": "curves"}, "transform": [{"filter": "datum.p == 2 && datum.s == 'base'"}], "mark": {"type": "line", "color": "black", "strokeWidth": 2.8}},
{"data": {"name": "curves"}, "transform": [{"filter": "datum.p == 2 && indexof(['C1','C3','C4','C5','C6','C7'], datum.s) >= 0"}], "mark": {"type": "line", "color": "black", "strokeWidth": 3.2, "interpolate": "monotone"}, "encoding": {"detail": {"field": "s"}}},
{"data": {"name": "curves"}, "transform": [{"filter": "datum.p == 2 && datum.s == 'C2'"}], "mark": {"type": "line", "color": "#0000ff", "strokeWidth": 3.2, "interpolate": "monotone"}},
{"data": {"name": "curves"}, "transform": [{"filter": "datum.p == 2 && datum.s == 'env'"}], "mark": {"type": "line", "color": "#808080", "strokeWidth": 4, "interpolate": "monotone"}},
{"data": {"name": "labels"}, "transform": [{"filter": "datum.p == 2 && datum.k != 'd'"}], "mark": {"type": "text", "fontSize": 20, "fontWeight": "bold", "align": "center", "baseline": "middle"}, "encoding": {"text": {"field": "t"}, "color": {"field": "k", "type": "nominal", "scale": {"domain": ["k", "b"], "range": ["black", "#0000ff"]}, "legend": null}}},
{"data": {"name": "labels"}, "transform": [{"filter": "datum.p == 2 && datum.k == 'd'"}], "mark": {"type": "text", "fontSize": 28, "align": "left", "baseline": "alphabetic", "color": "black"}, "encoding": {"text": {"field": "t"}}}
]
},
{
"width": 724, "height": 365,
"encoding": {
"x": {"field": "x", "type": "quantitative", "scale": {"domain": [281, 294], "reverse": true, "nice": false, "zero": false}, "axis": {"values": [282,283,284,285,286,287,288,289,290,291,292,293,294], "labelExpr": "datum.value % 2 === 0 ? datum.label : ''", "labelFontSize": 30, "labelFontWeight": "bold", "labelColor": "black", "labelPadding": 10, "labelFlush": false, "labelOverlap": false, "title": "Energía de enlace (eV)", "titleFontSize": 42, "titleFontWeight": "bold", "titleColor": "black", "titlePadding": 24, "domain": false, "tickColor": "black", "tickWidth": 3, "tickSize": {"condition": {"test": "datum.value % 2 === 0", "value": 13}, "value": 7}}},
"y": {"field": "y", "type": "quantitative", "scale": {"domain": [0, 365], "nice": false, "zero": false}, "axis": {"title": null, "ticks": false, "labels": false, "domainWidth": 5, "domainColor": "black"}}
},
"layer": [
{"data": {"name": "curves"}, "transform": [{"filter": "datum.p == 3 && datum.s == 'raw'"}], "mark": {"type": "line", "color": "black", "strokeWidth": 2.2}},
{"data": {"name": "curves"}, "transform": [{"filter": "datum.p == 3 && datum.s == 'base'"}], "mark": {"type": "line", "color": "black", "strokeWidth": 2.8}},
{"data": {"name": "curves"}, "transform": [{"filter": "datum.p == 3 && indexof(['C1','C3','C4','C5','C6','C7'], datum.s) >= 0"}], "mark": {"type": "line", "color": "black", "strokeWidth": 3.2, "interpolate": "monotone"}, "encoding": {"detail": {"field": "s"}}},
{"data": {"name": "curves"}, "transform": [{"filter": "datum.p == 3 && datum.s == 'C2'"}], "mark": {"type": "line", "color": "#0000ff", "strokeWidth": 3.2, "interpolate": "monotone"}},
{"data": {"name": "curves"}, "transform": [{"filter": "datum.p == 3 && datum.s == 'env'"}], "mark": {"type": "line", "color": "#808080", "strokeWidth": 4, "interpolate": "monotone"}},
{"data": {"name": "labels"}, "transform": [{"filter": "datum.p == 3 && datum.k != 'd'"}], "mark": {"type": "text", "fontSize": 20, "fontWeight": "bold", "align": "center", "baseline": "middle"}, "encoding": {"text": {"field": "t"}, "color": {"field": "k", "type": "nominal", "scale": {"domain": ["k", "b"], "range": ["black", "#0000ff"]}, "legend": null}}},
{"data": {"name": "labels"}, "transform": [{"filter": "datum.p == 3 && datum.k == 'd'"}], "mark": {"type": "text", "fontSize": 28, "align": "left", "baseline": "alphabetic", "color": "black"}, "encoding": {"text": {"field": "t"}}}
]
}
],
"spacing": 0,
"bounds": "flush"
}
